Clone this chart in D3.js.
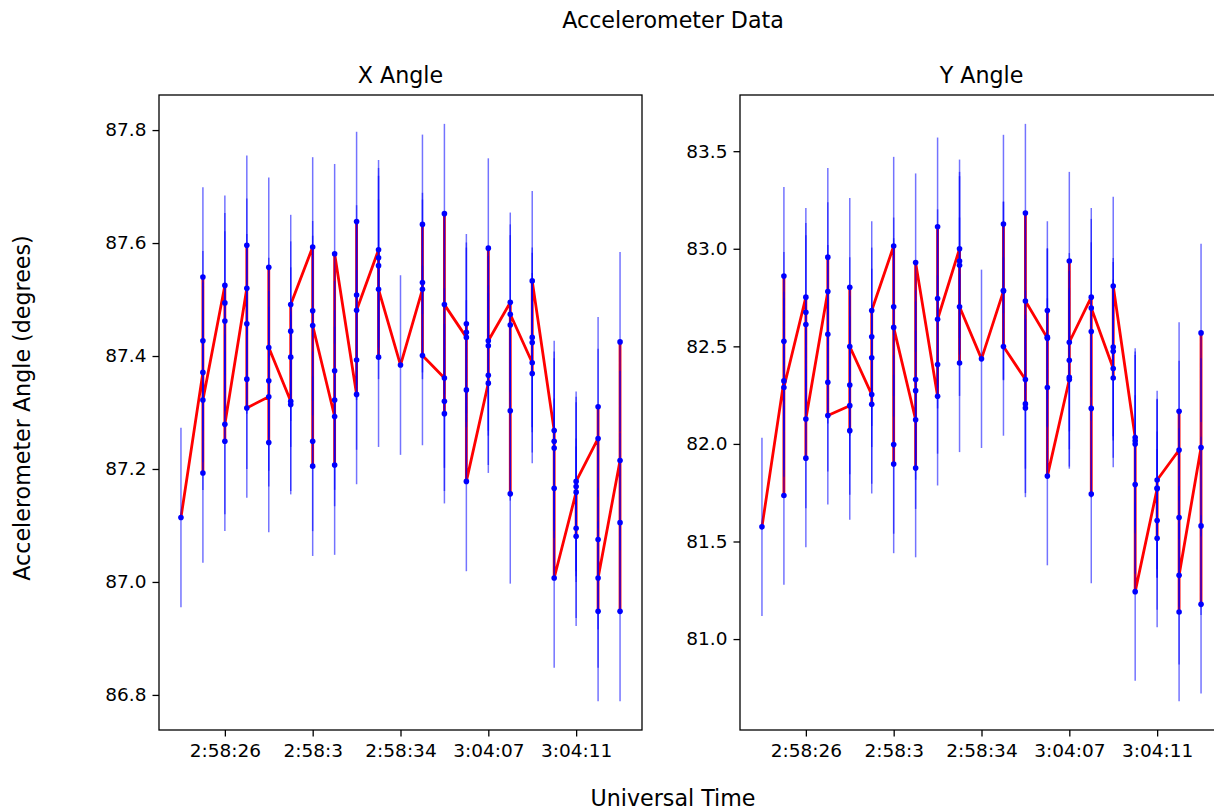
<!DOCTYPE html>
<html>
<head>
<meta charset="utf-8">
<script src="https://cdn.jsdelivr.net/npm/d3@7"></script>
<style>
  body { margin: 0; background: #fff; }
  text { font-family: "DejaVu Sans", sans-serif; fill: #000; }
</style>
</head>
<body>
<svg id="chart" width="1214" height="811"></svg>
<script>
// Number of accelerometer samples logged under each timestamp, in time order
const samplesPerStamp = [1, 5, 5, 5, 5, 5, 5, 5, 5, 5, 1, 4, 5, 5, 5, 5, 5, 5, 5, 5, 4];

// X angle samples (degrees), in time order
const xAngle = [
  87.114,
  87.371, 87.540, 87.427, 87.193, 87.322,
  87.525, 87.494, 87.462, 87.249, 87.279,
  87.520, 87.596, 87.457, 87.359, 87.308,
  87.328, 87.557, 87.247, 87.356, 87.415,
  87.320, 87.314, 87.398, 87.444, 87.491,
  87.593, 87.480, 87.205, 87.249, 87.454,
  87.293, 87.207, 87.322, 87.374, 87.581,
  87.332, 87.393, 87.638, 87.508, 87.481,
  87.588, 87.574, 87.398, 87.560, 87.518,
  87.384,
  87.518, 87.633, 87.530, 87.401,
  87.361, 87.298, 87.320, 87.652, 87.491,
  87.433, 87.457, 87.442, 87.340, 87.178,
  87.352, 87.366, 87.591, 87.418, 87.427,
  87.495, 87.455, 87.156, 87.303, 87.474,
  87.388, 87.369, 87.424, 87.433, 87.533,
  87.268, 87.249, 87.237, 87.166, 87.007,
  87.159, 87.081, 87.095, 87.169, 87.178,
  87.254, 87.310, 86.948, 87.075, 87.007,
  87.215, 87.425, 86.948, 87.105
];

// Y angle samples (degrees), in time order
const yAngle = [
  81.575,
  82.323, 82.860, 82.526, 81.736, 82.289,
  82.752, 82.675, 82.612, 81.927, 82.128,
  82.781, 82.957, 82.562, 82.316, 82.146,
  82.196, 82.803, 82.068, 82.302, 82.499,
  82.253, 82.203, 82.441, 82.549, 82.684,
  83.014, 82.703, 81.897, 81.997, 82.597,
  82.124, 81.876, 82.273, 82.330, 82.929,
  82.244, 82.407, 83.113, 82.745, 82.639,
  83.000, 82.937, 82.415, 82.915, 82.703,
  82.436,
  82.783, 83.127, 82.786, 82.499,
  82.330, 82.184, 82.205, 83.183, 82.732,
  82.542, 82.684, 82.547, 82.289, 81.835,
  82.330, 82.341, 82.937, 82.429, 82.521,
  82.752, 82.576, 81.743, 82.182, 82.696,
  82.386, 82.338, 82.475, 82.496, 82.809,
  82.033, 82.016, 81.999, 81.792, 81.243,
  81.770, 81.517, 81.607, 81.774, 81.815,
  81.969, 82.167, 81.139, 81.623, 81.327,
  81.982, 82.569, 81.178, 81.580
];

// Measurement uncertainty (degrees)
const xAngleErr = 0.159;
const yAngleErr = 0.457;

// Labelled timestamps on the time axis
const tickStamps = [2, 6, 10, 14, 18];
const tickLabels = ["2:58:26", "2:58:3", "2:58:34", "3:04:07", "3:04:11"];

const panelTitles = ["X Angle", "Y Angle"];

const svg = d3.select("#chart");
const plotTop = 95, plotBottom = 730, plotWidth = 483;
const panelLefts = [159, 740];
const tickFont = 18.5, labelFont = 22.2;

// timestamp index for each sample
const stampOf = samplesPerStamp.flatMap((n, i) => d3.range(n).map(() => i));

function drawPanel(values, err, title, left) {
  const g = svg.append("g");
  const x = d3.scaleLinear()
    .domain([-1, samplesPerStamp.length])
    .range([left, left + plotWidth]);
  const lo = d3.min(values) - err, hi = d3.max(values) + err;
  const pad = (hi - lo) * 0.05;
  const y = d3.scaleLinear().domain([lo - pad, hi + pad]).range([plotBottom, plotTop]);

  const pts = values.map((v, i) => ({ s: stampOf[i], v }));

  // time-ordered trace
  g.append("path")
    .datum(pts)
    .attr("fill", "none")
    .attr("stroke", "#ff0000")
    .attr("stroke-width", 2.8)
    .attr("stroke-linejoin", "round")
    .attr("d", d3.line().x(d => x(d.s)).y(d => y(d.v)));

  // error bars
  g.append("g").selectAll("line")
    .data(pts)
    .join("line")
    .attr("x1", d => x(d.s)).attr("x2", d => x(d.s))
    .attr("y1", d => y(d.v - err)).attr("y2", d => y(d.v + err))
    .attr("stroke", "#0000ff")
    .attr("stroke-opacity", 0.55)
    .attr("stroke-width", 1.5);

  // sample markers
  g.append("g").selectAll("circle")
    .data(pts)
    .join("circle")
    .attr("cx", d => x(d.s)).attr("cy", d => y(d.v))
    .attr("r", 2.8)
    .attr("fill", "#0000ff");

  // axes frame
  g.append("rect")
    .attr("x", left).attr("y", plotTop)
    .attr("width", plotWidth).attr("height", plotBottom - plotTop)
    .attr("fill", "none").attr("stroke", "#000").attr("stroke-width", 1.3);

  const yAxis = g.append("g")
    .attr("transform", `translate(${left},0)`)
    .call(d3.axisLeft(y).ticks(6).tickFormat(d3.format(".1f")).tickSize(6.5).tickPadding(6));
  const xAxis = g.append("g")
    .attr("transform", `translate(0,${plotBottom})`)
    .call(d3.axisBottom(x).tickValues(tickStamps).tickFormat((d, i) => tickLabels[i]).tickSize(6.5).tickPadding(7));
  [yAxis, xAxis].forEach(a => {
    a.select(".domain").remove();
    a.selectAll(".tick line").attr("stroke", "#000").attr("stroke-width", 1.3);
    a.selectAll(".tick text").attr("font-size", tickFont).attr("font-family", "DejaVu Sans").attr("fill", "#000");
  });

  g.append("text")
    .attr("x", left + plotWidth / 2).attr("y", 83)
    .attr("text-anchor", "middle")
    .attr("font-size", labelFont)
    .text(title);
}

drawPanel(xAngle, xAngleErr, panelTitles[0], panelLefts[0]);
drawPanel(yAngle, yAngleErr, panelTitles[1], panelLefts[1]);

svg.append("text")
  .attr("x", 673).attr("y", 28)
  .attr("text-anchor", "middle").attr("font-size", labelFont)
  .text("Accelerometer Data");

svg.append("text")
  .attr("x", 673).attr("y", 806)
  .attr("text-anchor", "middle").attr("font-size", labelFont)
  .text("Universal Time");

svg.append("text")
  .attr("transform", "translate(30,408) rotate(-90)")
  .attr("text-anchor", "middle").attr("font-size", labelFont)
  .text("Accelerometer Angle (degrees)");
</script>
</body>
</html>
